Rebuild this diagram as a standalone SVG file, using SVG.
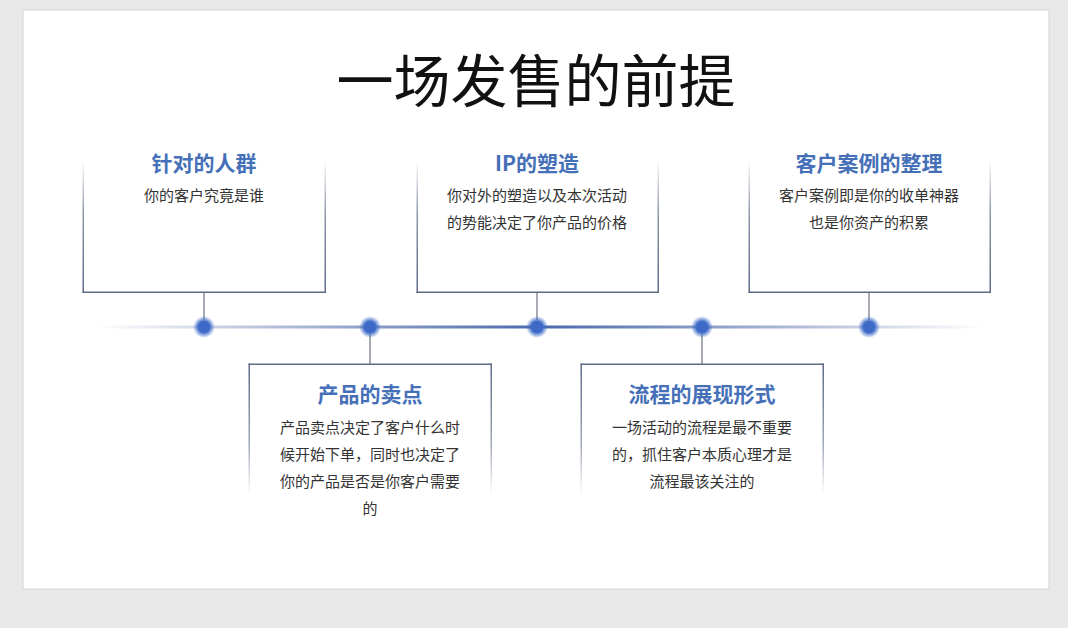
<svg xmlns="http://www.w3.org/2000/svg" width="1068" height="628" viewBox="0 0 1068 628">
<style>
.ttl{font-family:"Noto Sans CJK SC","Noto Sans",sans-serif;font-size:21px;font-weight:bold;fill:#4570b8;text-anchor:middle}
.bd{font-family:"Noto Sans CJK SC","Noto Sans",sans-serif;font-size:15px;fill:#333;text-anchor:middle}
.edge{fill:#5d6b86}
.conn{stroke:#6b7380;stroke-width:1.2}
</style>
<defs>
<linearGradient id="up" x1="0" y1="1" x2="0" y2="0">
<stop offset="0" stop-color="#5d6b86"/><stop offset="0.6" stop-color="#5d6b86" stop-opacity="0.7"/><stop offset="1" stop-color="#5d6b86" stop-opacity="0"/>
</linearGradient>
<linearGradient id="down" x1="0" y1="0" x2="0" y2="1">
<stop offset="0" stop-color="#5d6b86"/><stop offset="0.6" stop-color="#5d6b86" stop-opacity="0.6"/><stop offset="1" stop-color="#5d6b86" stop-opacity="0"/>
</linearGradient>
<linearGradient id="tl" x1="95" y1="0" x2="985" y2="0" gradientUnits="userSpaceOnUse">
<stop offset="0" stop-color="#c8d0e2" stop-opacity="0"/>
<stop offset="0.15" stop-color="#c5cde0"/>
<stop offset="0.5" stop-color="#4a68ac"/>
<stop offset="0.85" stop-color="#c5cde0"/>
<stop offset="1" stop-color="#c8d0e2" stop-opacity="0"/>
</linearGradient>
<radialGradient id="glow">
<stop offset="0.55" stop-color="#3f6cc8" stop-opacity="0.9"/>
<stop offset="1" stop-color="#3f6cc8" stop-opacity="0"/>
</radialGradient>
</defs>
<rect width="1068" height="628" fill="#e9e9ea"/>
<rect x="23" y="10" width="1026" height="579" fill="#ffffff" stroke="#d4d4d4" stroke-width="1"/>
<text x="536" y="102" font-family="Noto Sans CJK SC, Noto Sans, sans-serif" font-size="57" fill="#111" text-anchor="middle">一场发售的前提</text>

<g id="connectors">
<rect x="95" y="325.5" width="890" height="3" fill="url(#tl)"/>
<line class="conn" x1="204" y1="292" x2="204" y2="320"/>
<line class="conn" x1="537" y1="292" x2="537" y2="320"/>
<line class="conn" x1="869" y1="292" x2="869" y2="320"/>
<line class="conn" x1="370" y1="334" x2="370" y2="364"/>
<line class="conn" x1="702" y1="334" x2="702" y2="364"/>
</g>

<g id="dots">
<circle cx="204" cy="327" r="11" fill="url(#glow)"/><circle cx="204" cy="327" r="6" fill="#3d6ac6"/>
<circle cx="370" cy="327" r="11" fill="url(#glow)"/><circle cx="370" cy="327" r="6" fill="#3d6ac6"/>
<circle cx="537" cy="327" r="11" fill="url(#glow)"/><circle cx="537" cy="327" r="6" fill="#3d6ac6"/>
<circle cx="702" cy="327" r="11" fill="url(#glow)"/><circle cx="702" cy="327" r="6" fill="#3d6ac6"/>
<circle cx="869" cy="327" r="11" fill="url(#glow)"/><circle cx="869" cy="327" r="6" fill="#3d6ac6"/>
</g>

<g id="node1">
<rect x="82.5" y="160" width="1.5" height="133" fill="url(#up)"/>
<rect x="324.5" y="160" width="1.5" height="133" fill="url(#up)"/>
<rect x="82.5" y="291.5" width="243.5" height="1.5" class="edge"/>
<text class="ttl" x="204" y="171">针对的人群</text>
<text class="bd" x="204" y="201">你的客户究竟是谁</text>
</g>

<g id="node2">
<rect x="416.5" y="160" width="1.5" height="133" fill="url(#up)"/>
<rect x="657.5" y="160" width="1.5" height="133" fill="url(#up)"/>
<rect x="416.5" y="291.5" width="242.5" height="1.5" class="edge"/>
<text class="ttl" x="537" y="171">IP的塑造</text>
<text class="bd" x="537" y="201">你对外的塑造以及本次活动</text>
<text class="bd" x="537" y="228">的势能决定了你产品的价格</text>
</g>

<g id="node3">
<rect x="748.5" y="160" width="1.5" height="133" fill="url(#up)"/>
<rect x="989.5" y="160" width="1.5" height="133" fill="url(#up)"/>
<rect x="748.5" y="291.5" width="242.5" height="1.5" class="edge"/>
<text class="ttl" x="869" y="171">客户案例的整理</text>
<text class="bd" x="869" y="201">客户案例即是你的收单神器</text>
<text class="bd" x="869" y="228">也是你资产的积累</text>
</g>

<g id="node4">
<rect x="248.5" y="363.5" width="243.5" height="1.5" class="edge"/>
<rect x="248.5" y="363.5" width="1.5" height="132" fill="url(#down)"/>
<rect x="490.5" y="363.5" width="1.5" height="132" fill="url(#down)"/>
<text class="ttl" x="370" y="402">产品的卖点</text>
<text class="bd" x="370" y="433">产品卖点决定了客户什么时</text>
<text class="bd" x="370" y="460">候开始下单，同时也决定了</text>
<text class="bd" x="370" y="487">你的产品是否是你客户需要</text>
<text class="bd" x="370" y="514">的</text>
</g>

<g id="node5">
<rect x="580.5" y="363.5" width="243.5" height="1.5" class="edge"/>
<rect x="580.5" y="363.5" width="1.5" height="132" fill="url(#down)"/>
<rect x="822.5" y="363.5" width="1.5" height="132" fill="url(#down)"/>
<text class="ttl" x="702" y="402">流程的展现形式</text>
<text class="bd" x="702" y="433">一场活动的流程是最不重要</text>
<text class="bd" x="702" y="460">的，抓住客户本质心理才是</text>
<text class="bd" x="702" y="487">流程最该关注的</text>
</g>
</svg>
